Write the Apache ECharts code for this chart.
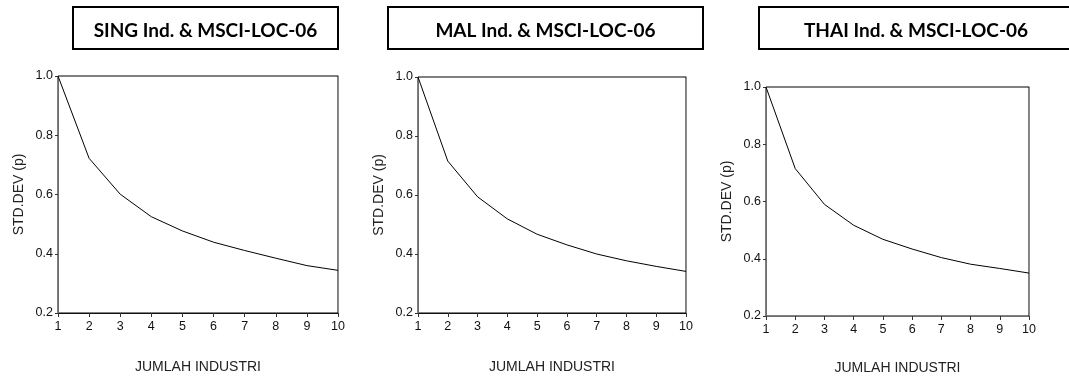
<!DOCTYPE html>
<html>
<head>
<meta charset="utf-8">
<script src="https://cdn.jsdelivr.net/npm/echarts@6/dist/echarts.min.js"></script>
<style>
  html, body { margin: 0; padding: 0; background: #fff; }
  #chart { width: 1069px; height: 376px; }
</style>
</head>
<body>
<div id="chart"></div>
<script>
// Number of industries in the portfolio
const industries = [1, 2, 3, 4, 5, 6, 7, 8, 9, 10];

// Relative standard deviation for each market pairing
const singValues = [1.0, 0.722, 0.601, 0.525, 0.477, 0.439, 0.411, 0.385, 0.360, 0.344];
const malValues  = [1.0, 0.715, 0.594, 0.519, 0.467, 0.431, 0.400, 0.377, 0.358, 0.341];
const thaiValues = [1.0, 0.715, 0.590, 0.517, 0.468, 0.434, 0.404, 0.381, 0.366, 0.350];

const panelTitles = ['SING Ind. & MSCI-LOC-06', 'MAL Ind. & MSCI-LOC-06', 'THAI Ind. & MSCI-LOC-06'];
const yTicks = [0.2, 0.4, 0.6, 0.8, 1.0];
const xName = 'JUMLAH INDUSTRI';
const yName = 'STD.DEV (p)';

const seriesValues = [singValues, malValues, thaiValues];

// Layout of each panel: plot area, x-axis name gap and the framed title above it
const panels = [
  { grid: { left: 58, top: 76, width: 280, height: 237 }, xGap: 47, box: { x: 73, y: 7, w: 265, h: 42 }, tx: 205.5 },
  { grid: { left: 418, top: 77, width: 268, height: 236 }, xGap: 47, box: { x: 388, y: 7, w: 315, h: 42 }, tx: 545.5 },
  { grid: { left: 766, top: 87, width: 263, height: 229 }, xGap: 45, box: { x: 759, y: 7, w: 330, h: 42 }, tx: 916 }
];

const sans = '"Liberation Sans", Arial, sans-serif';
const grid = [], xAxis = [], yAxis = [], series = [], graphic = [];

panels.forEach((p, i) => {
  grid.push(Object.assign({
    show: true, borderColor: '#000', borderWidth: 1, backgroundColor: 'transparent',
    containLabel: false, outerBoundsMode: 'none'
  }, p.grid));

  xAxis.push({
    type: 'value', gridIndex: i, min: 1, max: 10, interval: 1,
    name: xName, nameLocation: 'middle', nameGap: p.xGap,
    nameTextStyle: { fontFamily: sans, fontSize: 14, color: '#222' },
    axisLine: { show: true, lineStyle: { color: i === 2 ? '#6f6f6f' : '#111', width: 1 } },
    axisTick: { show: true, inside: false, length: 4, lineStyle: { color: '#333' } },
    axisLabel: { fontFamily: sans, fontSize: 12.5, color: '#111', margin: 7 },
    splitLine: { show: false }
  });

  yAxis.push({
    type: 'value', gridIndex: i, min: 0.2, max: 1.0, interval: 0.2,
    name: yName, nameLocation: 'middle', nameGap: 32, nameRotate: 90,
    nameTextStyle: { fontFamily: sans, fontSize: 14, color: '#222' },
    axisLine: { show: true, lineStyle: { color: '#6f6f6f', width: 1 } },
    axisTick: { show: true, inside: false, length: 3, lineStyle: { color: '#333' } },
    axisLabel: {
      fontFamily: sans, fontSize: 12.5, color: '#111', margin: 5,
      formatter: v => yTicks.some(t => Math.abs(t - v) < 1e-9) ? v.toFixed(1) : ''
    },
    splitLine: { show: false }
  });
  // right-hand frame edge
  yAxis.push({
    type: 'value', gridIndex: i, min: 0.2, max: 1.0, interval: 0.2, position: 'right',
    axisLine: { show: true, lineStyle: { color: '#8a8a8a', width: 1 } },
    axisTick: { show: false }, axisLabel: { show: false }, splitLine: { show: false }
  });

  series.push({
    type: 'line', xAxisIndex: i, yAxisIndex: i * 2,
    data: industries.map((n, k) => [n, seriesValues[i][k]]),
    symbol: 'none', lineStyle: { color: '#000', width: 1 }, silent: true, animation: false
  });

  graphic.push({
    type: 'rect', shape: { x: p.box.x, y: p.box.y, width: p.box.w, height: p.box.h },
    style: { fill: '#fff', stroke: '#000', lineWidth: 2 }
  });
  graphic.push({
    type: 'text', x: p.tx, y: 31,
    style: {
      text: panelTitles[i], fill: '#000', align: 'center', verticalAlign: 'middle',
      font: 'bold 19px Lato, "Open Sans", sans-serif'
    }
  });
});

const chart = echarts.init(document.getElementById('chart'));
chart.setOption({
  animation: false,
  backgroundColor: '#fff',
  grid, xAxis, yAxis, series, graphic
});
</script>
</body>
</html>
